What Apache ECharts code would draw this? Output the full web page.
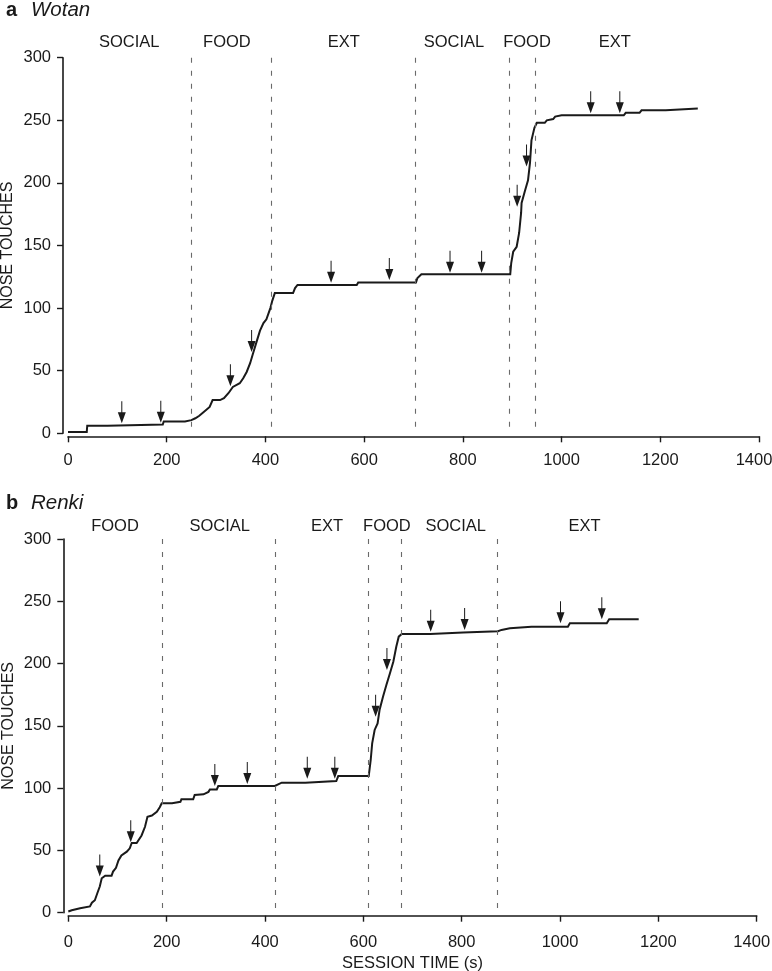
<!DOCTYPE html>
<html>
<head>
<meta charset="utf-8">
<script src="https://cdn.jsdelivr.net/npm/echarts@6/dist/echarts.min.js"></script>
<style>html,body{margin:0;padding:0;background:#fff}#c{width:772px;height:971px}</style>
</head>
<body>
<div id="c"></div>
<script>
// ---------- data ----------
const xTicksMax = 1400;
const yTicksMax = 300;

const wotanCurve = [[0,1],[38,1],[39,6],[80,6],[82,7],[192,7],[194,9.5],[237,9.5],[250,10.5],[258,12],[266,14],[275,17],[287,21],[293,26.5],[308,26.5],[316,28],[325,32],[334,37],[348,40],[355,44],[362,49],[369,56],[375,64],[382,73],[389,82],[396,88],[402,91],[410,100],[414,106],[419,112],[456,112],[460,116],[465,118.5],[585,118.5],[588,120.5],[705,120.5],[708,124],[716,127],[896,127],[898,136],[902,145],[909,149],[914,160],[918,176],[919,184],[926,194],[932,202],[936,216],[939,234],[945,244],[950,248],[966,248],[970,250],[983,251],[987,253],[1000,254],[1126,254],[1130,256],[1158,256],[1162,258],[1211,258],[1214,259],[1276,259.5]];
const wotanArrows = [[109,8],[188,8.5],[329,37.5],[372,65],[533,120.3],[651,122.4],[774,128.3],[838,128.3],[910,181],[929,213],[1059,255.6],[1118,255.6]];
const wotanBounds = [250, 411, 704, 893, 946];
const wotanPhases = ['SOCIAL','FOOD','EXT','SOCIAL','FOOD','EXT'];
const wotanPhaseX = [124, 322, 559, 782, 930, 1108];

const renkiCurve = [[0,1],[7,2],[24,3.5],[44,5],[48,8],[54,10],[59,15.6],[64,21],[68,27.6],[75,29.7],[88,29.7],[91,33],[97,36],[102,42],[108,46],[119,49],[125,51.7],[129,56],[139,56],[142,57],[149,62],[156,69],[161,77],[170,78],[180,81],[186,84.6],[190,87.8],[211,87.8],[213,89],[228,89],[230,91],[254,91],[257,94.5],[275,95],[285,97],[288,99],[302,99],[305,101.7],[420,101.7],[424,103.3],[434,104.4],[482,104.4],[485,105.7],[545,105.7],[549,109.7],[611,109.7],[615,122.6],[618,136],[623,146.7],[629,152],[633,162.7],[640,173.4],[647,183],[654,192],[661,201.5],[667,213.5],[672,221.6],[678,223.7],[736,223.7],[739,225],[803,225],[806,226],[874,226],[881,227],[898,228.3],[942,229.6],[1016,229.6],[1020,232.3],[1095,232.3],[1100,235.5],[1160,235.5]];
const renkiArrows = [[64,29],[127,56.5],[298,101.7],[364,103.3],[486,107.5],[542,107.5],[625,157.4],[648,194.8],[737,225.6],[806,227],[1001,232.3],[1085,235.5]];
const renkiBounds = [191, 421, 611, 677, 873];
const renkiPhases = ['FOOD','SOCIAL','EXT','FOOD','SOCIAL','EXT'];
const renkiPhaseX = [95, 308, 526, 648, 788, 1050];

// ---------- styles ----------
const FONT = "'Liberation Sans', Arial, Helvetica, sans-serif";
const INK = '#1a1a1a';
const arrowPath = 'path://M3.5,0 L4.5,0 L4.5,11 L8,11 L4,22 L0,11 L3.5,11 Z';

function xAxisCfg(idx, withName, margin) {
  return {
    type: 'value', gridIndex: idx, min: 0, max: xTicksMax, interval: 200, offset: 3,
    axisLine: { show: true, onZero: false, lineStyle: { color: INK, width: 1.6 } },
    axisTick: { show: true, length: 6, lineStyle: { color: INK, width: 1.4 } },
    axisLabel: {
      fontSize: 16.5, color: INK, margin: margin, fontFamily: FONT,
      formatter: v => v === xTicksMax ? '{m|' + v + '}' : String(v),
      rich: { m: { fontSize: 16.5, fontFamily: FONT, color: INK, padding: [0, 10, 0, 0] } }
    },
    splitLine: { show: false },
    name: withName ? 'SESSION TIME (s)' : '',
    nameLocation: 'middle', nameGap: 39, nameMoveOverlap: false,
    nameTextStyle: { fontSize: 16.5, color: INK, fontFamily: FONT }
  };
}
function yAxisCfg(idx) {
  return {
    type: 'value', gridIndex: idx, min: 0, max: yTicksMax, interval: 50, offset: 5,
    axisLine: { show: true, onZero: false, lineStyle: { color: INK, width: 1.6 } },
    axisTick: { show: true, length: 6, lineStyle: { color: INK, width: 1.4 } },
    axisLabel: { fontSize: 16.5, color: INK, margin: 12, fontFamily: FONT, formatter: v => String(v) },
    splitLine: { show: false },
    name: 'NOSE TOUCHES', nameLocation: 'middle', nameGap: 47, nameMoveOverlap: false,
    nameTextStyle: { fontSize: 16, color: INK, fontFamily: FONT }
  };
}
function curveSeries(idx, data, bounds) {
  return {
    type: 'line', xAxisIndex: idx, yAxisIndex: idx, data: data,
    symbol: 'none', lineStyle: { color: INK, width: 2, join: 'miter' }, silent: true,
    markLine: {
      silent: true, symbol: ['none', 'none'], label: { show: false },
      lineStyle: { type: [5, 8], color: '#6a6a6a', width: 1.1 },
      data: bounds.map(b => [{ coord: [b, yTicksMax] }, { coord: [b, 0] }])
    }
  };
}
function arrowSeries(idx, data) {
  return {
    type: 'scatter', xAxisIndex: idx, yAxisIndex: idx, data: data, clip: false,
    symbol: arrowPath, symbolSize: [8, 22], symbolOffset: [0, '-50%'],
    itemStyle: { color: INK, opacity: 1 }, silent: true
  };
}

const chart = echarts.init(document.getElementById('c'), null, { renderer: 'canvas' });
chart.setOption({
  animation: false,
  backgroundColor: '#fff',
  grid: [
    { left: 68, top: 57.7, width: 691, height: 375.6, containLabel: false, outerBoundsMode: 'none' },
    { left: 68.3, top: 539, width: 688.4, height: 373.7, containLabel: false, outerBoundsMode: 'none' }
  ],
  xAxis: [xAxisCfg(0, false, 16), xAxisCfg(1, true, 18)],
  yAxis: [yAxisCfg(0), yAxisCfg(1)],
  series: [
    curveSeries(0, wotanCurve, wotanBounds),
    arrowSeries(0, wotanArrows),
    curveSeries(1, renkiCurve, renkiBounds),
    arrowSeries(1, renkiArrows)
  ]
});

// phase labels and panel titles
const graphics = [];
function addPhases(idx, names, xs, topPx) {
  names.forEach((n, i) => {
    const px = chart.convertToPixel({ xAxisIndex: idx }, xs[i]);
    graphics.push({
      type: 'text', x: px, y: topPx,
      style: { text: n, fontSize: 16.5, fontFamily: FONT, fill: INK, align: 'center', verticalAlign: 'middle' }
    });
  });
}
addPhases(0, wotanPhases, wotanPhaseX, 42);
addPhases(1, renkiPhases, renkiPhaseX, 526);

function addTitle(letter, name, y) {
  graphics.push({
    type: 'text', x: 6, y: y,
    style: { text: letter, fontSize: 20, fontWeight: 'bold', fontFamily: FONT, fill: INK, verticalAlign: 'middle' }
  });
  graphics.push({
    type: 'text', x: 31, y: y,
    style: { text: name, fontSize: 20.5, fontStyle: 'italic', fontFamily: FONT, fill: INK, verticalAlign: 'middle' }
  });
}
addTitle('a', 'Wotan', 10);
addTitle('b', 'Renki', 503);

chart.setOption({ graphic: graphics });
</script>
</body>
</html>
